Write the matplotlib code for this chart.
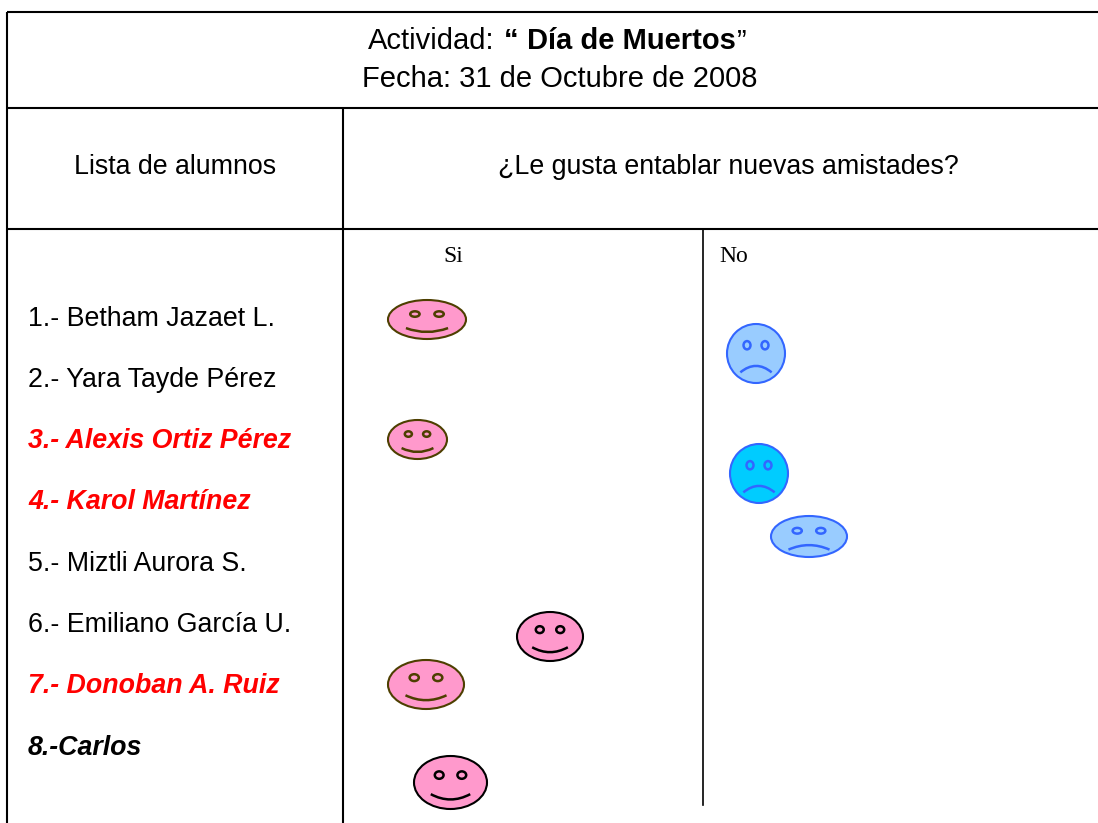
import matplotlib
matplotlib.use('Agg')
import matplotlib.pyplot as plt
from matplotlib.patches import Ellipse, PathPatch
from matplotlib.path import Path

plt.rcParams['font.family'] = ['Liberation Sans', 'DejaVu Sans']

W, H = 1098, 823

# lista de alumnos
students = ['1.- Betham Jazaet L.', '2.- Yara Tayde Pérez', '3.- Alexis Ortiz Pérez',
            '4.- Karol Martínez', '5.- Miztli Aurora S.', '6.- Emiliano García U.',
            '7.- Donoban A. Ruiz', '8.-Carlos']
student_y = [319, 380, 441, 502, 564, 625, 686, 748]
# 0 normal, 1 rojo negrita, 2 negro negrita
student_kind = [0, 0, 1, 1, 0, 0, 1, 2]

# caritas: izquierda, derecha, arriba, abajo (pixeles)
happy_x0 = [388, 388, 517, 388, 414]
happy_x1 = [466, 447, 583, 464, 487]
happy_y0 = [300, 420, 612, 660, 756]
happy_y1 = [339, 459, 661, 709, 809]
happy_edge = ['#4d3f00', '#4d3f00', '#000000', '#4d3f00', '#000000']

sad_x0 = [727, 730, 771]
sad_x1 = [785, 788, 847]
sad_y0 = [324, 444, 516]
sad_y1 = [383, 503, 557]
sad_fill = ['#99ccff', '#00ccff', '#99ccff']


def draw_face(ax, x0, x1, y0, y1, fill, edge, happy):
    w, h = x1 - x0, y1 - y0
    cx, cy = (x0 + x1) / 2, (y0 + y1) / 2
    ax.add_patch(Ellipse((cx, cy), w, h, fc=fill, ec=edge, lw=1.5))
    for s in (-1, 1):
        ax.add_patch(Ellipse((cx + s * 0.155 * w, y0 + 0.36 * h), 0.12 * w, 0.14 * h,
                             fc=fill, ec=edge, lw=1.8))
    # boca
    if happy:
        end, ctrl = y0 + 0.72 * h, y0 + 0.92 * h
    else:
        end, ctrl = y0 + 0.82 * h, y0 + 0.60 * h
    mouth = Path([(cx - 0.27 * w, end), (cx, ctrl), (cx + 0.27 * w, end)],
                 [Path.MOVETO, Path.CURVE3, Path.CURVE3])
    ax.add_patch(PathPatch(mouth, fc='none', ec=edge, lw=1.8))


fig = plt.figure(figsize=(W / 100, H / 100), dpi=100)
ax = fig.add_axes([0, 0, 1, 1])
ax.set_xlim(0, W)
ax.set_ylim(H, 0)
ax.axis('off')

# lineas de la tabla
line = dict(color='black', lw=1.5, solid_capstyle='butt')
ax.plot([7, W], [12, 12], **line)
ax.plot([7, W], [108, 108], **line)
ax.plot([7, W], [229, 229], **line)
ax.plot([7, 7], [12, H], **line)
ax.plot([343, 343], [108, H], **line)
ax.plot([702.5, 702.5], [229, 805], color='black', lw=1.2)

# encabezado
fs = 19.3
fs_title = 21
ax.text(368, 41, 'Actividad:', fontsize=fs_title, ha='left', va='center')
ax.text(504, 41, '“', fontsize=fs_title, ha='left', va='center', fontweight='bold')
ax.text(527, 41, 'Día de Muertos', fontsize=fs_title, ha='left', va='center', fontweight='bold')
ax.text(737, 41, '”', fontsize=fs_title, ha='left', va='center')
ax.text(560, 79, 'Fecha: 31 de Octubre de 2008', fontsize=fs_title, ha='center', va='center')
ax.text(175, 167, 'Lista de alumnos', fontsize=fs, ha='center', va='center')
ax.text(728, 167, '¿Le gusta entablar nuevas amistades?', fontsize=fs, ha='center', va='center')
ax.text(443, 257, 'Si', fontsize=17, ha='left', va='center', family='Liberation Serif')
ax.text(719, 257, 'No', fontsize=17, ha='left', va='center', family='Liberation Serif')

for name, y, kind in zip(students, student_y, student_kind):
    if kind == 0:
        ax.text(28, y, name, fontsize=fs, ha='left', va='center')
    elif kind == 1:
        ax.text(28, y, name, fontsize=fs, ha='left', va='center', color='#ff0000',
                fontweight='bold', fontstyle='italic')
    else:
        ax.text(28, y, name, fontsize=fs, ha='left', va='center',
                fontweight='bold', fontstyle='italic')

for x0, x1, y0, y1, edge in zip(happy_x0, happy_x1, happy_y0, happy_y1, happy_edge):
    draw_face(ax, x0, x1, y0, y1, '#ff99cc', edge, True)
for x0, x1, y0, y1, fill in zip(sad_x0, sad_x1, sad_y0, sad_y1, sad_fill):
    draw_face(ax, x0, x1, y0, y1, fill, '#3366ff', False)

fig.savefig('out.png', dpi=100)
